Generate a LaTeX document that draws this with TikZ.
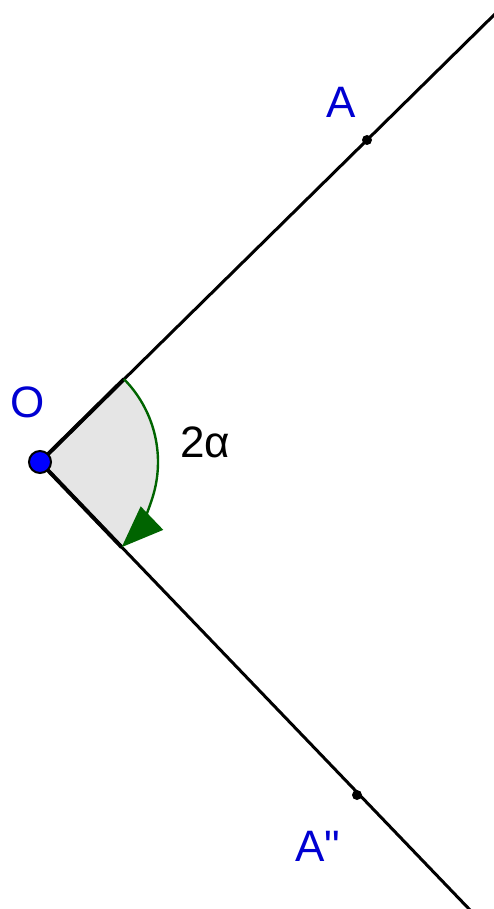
\documentclass[tikz,border=0pt]{standalone}
\usepackage{fontspec}
\setmainfont{Liberation Sans}
\newfontfamily\labelfont{Liberation Sans}
\usetikzlibrary{arrows.meta}
\definecolor{ptblue}{RGB}{0,0,210}
\definecolor{arcgreen}{RGB}{0,100,0}

\begin{document}
\begin{tikzpicture}[x=0.5pt,y=-0.5pt,inner sep=0pt,line width=1.5pt,
				vertex/.style={circle,draw=black,fill=blue,line width=1pt,minimum size=11pt},
				dot/.style={circle,fill=black,minimum size=5pt},
				lbl/.style={text=ptblue,font=\labelfont\fontsize{22}{26}\selectfont},
				sector/.style={fill=black!10},
				turn/.style={draw=arcgreen,line width=1.2pt,-{Triangle[length=21pt,width=16pt]}},]
				
				\useasboundingbox (0,0) rectangle (493,909);
				
				\coordinate (O) at (40,462);
				\coordinate (top) at (496,13);
				\coordinate (bot) at (471,911);
				
				\fill[sector] (O) -- ++(-44.6:118) arc[start angle=-44.6,end angle=46.2,radius=118] -- cycle;
				\draw[line width=2pt] (O) -- ++(-44.6:118);
				\draw[line width=2pt] (O) -- ++(46.2:118);
				
				\path (O) edge (top);
				\path (O) edge (bot);
				
				\path[turn] (O) ++(-44.6:118) arc[start angle=-44.6,end angle=46.2,radius=118];
				
				\node[dot] (A) at (367,140) {};
				\node[dot] (A2) at (357,795) {};
				\node[vertex] (v) at (O) {};
				
				\node[lbl] (lA) at (341,102) {A};
				\node[lbl] (lA2) at (318,846) {A"};
				\node[lbl] (lO) at (28,402) {O};
				\node[font=\fontsize{22}{26}\selectfont] (l2a) at (205,442) {2α};
				
			\end{tikzpicture}
\end{document}
